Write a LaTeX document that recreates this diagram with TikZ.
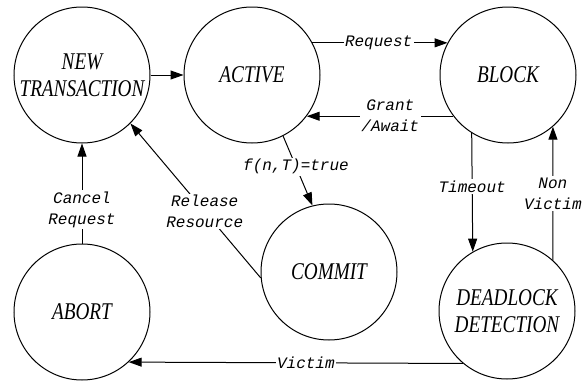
\documentclass[tikz,border=0pt]{standalone}
\usepackage{fontspec}
\usepackage{tikz}
\usetikzlibrary{arrows.meta}

\newfontfamily\statefont[FakeStretch=0.8]{Liberation Serif}
\newfontfamily\edgefont{Liberation Mono}

\tikzset{
	state/.style={shape=circle,draw=black,line width=1pt,minimum size=136pt,inner sep=0pt,
		align=center,font=\statefont\itshape\fontsize{24}{27}\selectfont},
	trans/.style={line width=1pt,-{Triangle[length=13pt,width=9pt]}},
	lbl/.style={fill=white,inner sep=1.5pt,align=center,
		font=\edgefont\itshape\fontsize{16}{21}\selectfont}
}

\begin{document}
\begin{tikzpicture}[x=1pt,y=-1pt]
	\useasboundingbox (0,0) rectangle (584,383);
	
	\node[state] (new)      at (82, 75)   {NEW\\TRANSACTION};
	\node[state] (active)   at (252, 75)  {ACTIVE};
	\node[state] (block)    at (508, 75)  {BLOCK};
	\node[state] (commit)   at (329, 272) {COMMIT};
	\node[state] (abort)    at (82, 312)  {ABORT};
	\node[state] (deadlock) at (507, 311) {DEADLOCK\\DETECTION};
	
	\path[trans] (new) edge (active);
	\path[trans] (active.28) edge node[lbl,pos=0.49] {Request} (block.152);
	\path[trans] (block.217) edge node[lbl,pos=0.43] {Grant\\/Await} (active.-37);
	\path[trans] (active.-63) edge node[lbl,pos=0.44] {f(n,T)=true} (commit.104);
	\path[trans] (commit.185) edge node[lbl,pos=0.43] {Release\\Resource} (new.-45);
	\path[trans] (abort.90) edge node[lbl,pos=0.34] {Cancel\\Request} (new.-90);
	\path[trans] (block.-122) edge node[lbl,pos=0.45] {Timeout} (deadlock.120);
	\path[trans] (deadlock.48) edge node[lbl,pos=0.5] {Non\\Victim} (block.-49);
	\path[trans] (deadlock.230) edge node[lbl,pos=0.47] {Victim} (abort.-47);

\end{tikzpicture}
\end{document}
